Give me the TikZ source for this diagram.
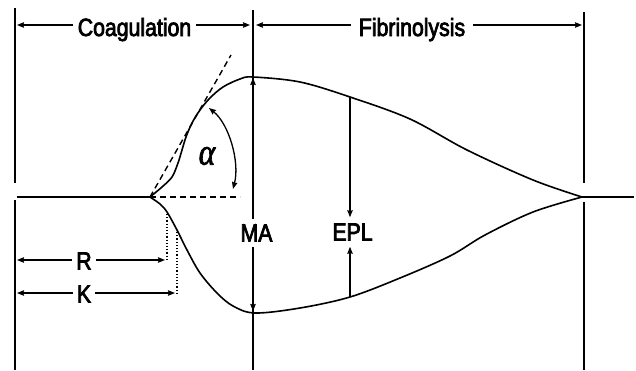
\documentclass[tikz,border=0pt]{standalone}
\usepackage{fontspec}
\setmainfont{Liberation Sans}[FakeStretch=0.85,FakeBold=3]
\newfontfamily\alphafont{Liberation Serif}[FakeBold=2]
\usetikzlibrary{arrows.meta}
\begin{document}
\begin{tikzpicture}[x=1pt,y=-1pt,
  vline/.style={line width=1.3pt},
  curve/.style={line width=1.6pt},
  base/.style={line width=2.2pt},
  arr/.style={line width=1.2pt,-{Stealth[length=7pt,width=5.5pt,inset=0.8pt]}},
  lbl/.style={font=\fontsize{25}{25}\selectfont, inner sep=0pt},
  dashline/.style={line width=1.4pt, dash pattern=on 6pt off 4pt},
  dotline/.style={line width=1.1pt, dash pattern=on 1.2pt off 2pt}]
\useasboundingbox (0,0) rectangle (636,370);
% vertical lines
\coordinate (Ltop) at (15,8);   \coordinate (Lm1) at (15,183);
\coordinate (Lm2) at (15,200);  \coordinate (Lbot) at (15,370);
\coordinate (Mtop) at (253,10); \coordinate (Mbot) at (253,370);
\coordinate (Rtop) at (584,12); \coordinate (Rm1) at (584,183);
\coordinate (Rm2) at (584,202); \coordinate (Rbot) at (584,370);
\draw[vline] (Ltop) -- (Lm1);
\draw[vline] (Lm2) -- (Lbot);
\draw[vline] (Mtop) -- (Mbot);
\draw[vline] (Rtop) -- (Rm1);
\draw[vline] (Rm2) -- (Rbot);
% baseline
\coordinate (b0) at (17,197);
\coordinate (v) at (150,197);
\coordinate (e) at (582,197);
\coordinate (b1) at (634,197);
\draw[base] (b0) -- (v);
\draw[base] (e) -- (b1);
% top phase arrows
\coordinate (caL) at (17,25);  \coordinate (caR) at (250,25);
\coordinate (fiL) at (256,25); \coordinate (fiR) at (582,25);
\node[lbl, inner xsep=5pt, anchor=base] (coag) at (134.5,36) {Coagulation};
\node[lbl, inner xsep=8pt, anchor=base] (fib) at (412,36) {Fibrinolysis};
\draw[arr] (coag.west |- caL) -- (caL);
\draw[arr] (coag.east |- caR) -- (caR);
\draw[arr] (fib.west |- fiL) -- (fiL);
\draw[arr] (fib.east |- fiR) -- (fiR);
% dashed reference lines
\coordinate (hd) at (240,197);
\coordinate (td) at (231,55);
\draw[dashline] (v) -- (hd);
\draw[dashline] (v) -- (td);
% curves
\draw[curve] plot[smooth, tension=0.55] coordinates {(150,197) (162,187) (172,177) (178,163) (182,150) (186,137) (192,123) (200,110) (210,98) (223,87) (240,79) (253,77) (300,82) (350,97) (410,119) (467,150) (533,180) (582,197)};
\draw[curve] plot[smooth, tension=0.55] coordinates {(150,197) (160,204) (167,212) (177,230) (187,250) (200,273) (217,293) (233,306) (255,313) (300,308) (350,297) (400,278) (450,256) (485,235) (533,212) (582,197)};
% alpha
\coordinate (alA) at (209,108);
\coordinate (alB) at (233,189);
\draw[line width=1.3pt, {Stealth[length=7pt,width=5.5pt,inset=0.8pt]}-{Stealth[length=7pt,width=5.5pt,inset=0.8pt]}] (alA) .. controls (229,124) and (240,162) .. (alB);
\node[xscale=1.05, yscale=1.25, inner sep=0pt] (alpha) at (207,156) {\alphafont\itshape\fontsize{30}{30}\selectfont α};
% MA
\coordinate (MAt) at (253,78);
\coordinate (MAb) at (253,311);
\node[lbl, fill=white, inner ysep=5pt, inner xsep=2pt] (MA) at (256.5,233) {MA};
\draw[arr] (MA.north -| Mtop) -- (MAt);
\draw[arr] (MA.south -| Mtop) -- (MAb);
% EPL
\coordinate (Et) at (350,97);
\coordinate (Eb) at (350,297);
\node[lbl, inner ysep=6pt] (EPL) at (352.5,232) {EPL};
\draw[arr] (Et) -- (EPL.north -| Et);
\draw[arr] (Eb) -- (EPL.south -| Eb);
% R and K
\coordinate (Rd1) at (167,214); \coordinate (Rd2) at (167,260);
\coordinate (Kd1) at (177,232); \coordinate (Kd2) at (177,293);
\draw[dotline] (Rd1) -- (Rd2);
\draw[dotline] (Kd1) -- (Kd2);
\coordinate (RL) at (17,260); \coordinate (RR) at (165,260);
\coordinate (KL) at (17,293); \coordinate (KR) at (175,293);
\node[lbl, inner xsep=4pt] (R) at (84,261) {R};
\node[lbl, inner xsep=4pt] (K) at (84,294) {K};
\draw[arr] (R.west |- RL) -- (RL);
\draw[arr] (R.east |- RR) -- (RR);
\draw[arr] (K.west |- KL) -- (KL);
\draw[arr] (K.east |- KR) -- (KR);
\end{tikzpicture}
\end{document}
